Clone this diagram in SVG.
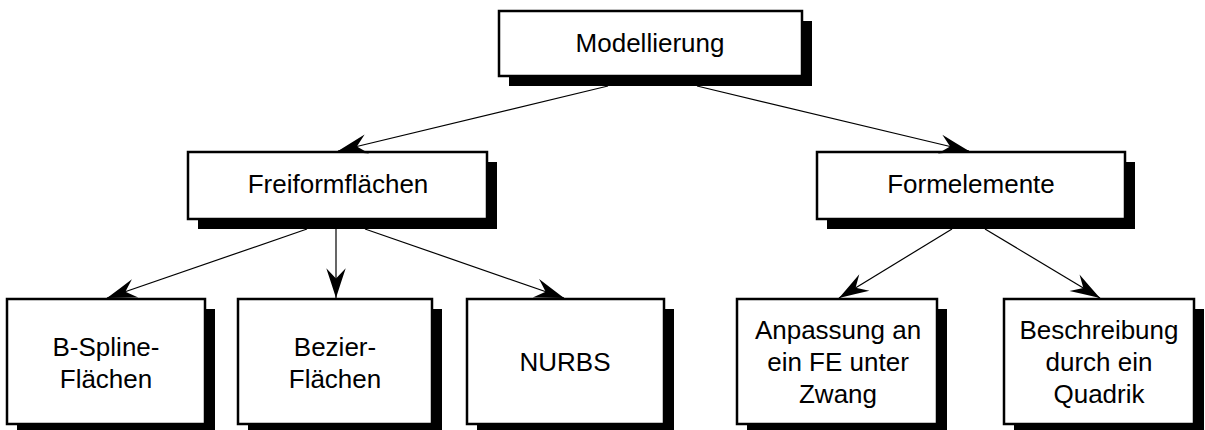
<svg xmlns="http://www.w3.org/2000/svg" width="1205" height="430" viewBox="0 0 1205 430">
  <style>
    .shadow { fill: #000; }
    .box { fill: #fff; stroke: #000; stroke-width: 2.5; }
    .label { font-family: "Liberation Sans", Arial, sans-serif; font-size: 26px; fill: #000; text-anchor: middle; }
    .edge { stroke: #000; stroke-width: 1.2; fill: none; marker-end: url(#arrow); }
  </style>
  <defs>
    <marker id="arrow" markerUnits="userSpaceOnUse" orient="auto" refX="0" refY="0" markerWidth="40" markerHeight="40" viewBox="-30 -15 35 30" overflow="visible">
      <path d="M0,0 Q-14,-4.5 -26,-8.5 L-17,0 L-26,8.5 Q-14,4.5 0,0 Z" fill="#000"/>
    </marker>
  </defs>

  <!-- root -->
  <g id="modellierung">
    <rect class="shadow" x="509" y="21" width="303" height="65"/>
    <rect class="box" x="499" y="11" width="303" height="65"/>
    <text class="label" x="650" y="52">Modellierung</text>
  </g>

  <!-- second level -->
  <g id="freiformflaechen">
    <rect class="shadow" x="198" y="162" width="299" height="67"/>
    <rect class="box" x="188" y="152" width="299" height="67"/>
    <text class="label" x="338" y="193">Freiformflächen</text>
  </g>
  <g id="formelemente">
    <rect class="shadow" x="827" y="162" width="308" height="67"/>
    <rect class="box" x="817" y="152" width="308" height="67"/>
    <text class="label" x="971" y="193">Formelemente</text>
  </g>

  <!-- leaves -->
  <g id="bspline">
    <rect class="shadow" x="17" y="309" width="198" height="125"/>
    <rect class="box" x="7" y="299" width="198" height="125"/>
    <text class="label" x="106" y="356">B-Spline-</text>
    <text class="label" x="106" y="388">Flächen</text>
  </g>
  <g id="bezier">
    <rect class="shadow" x="248" y="309" width="194" height="125"/>
    <rect class="box" x="238" y="299" width="194" height="125"/>
    <text class="label" x="335" y="356">Bezier-</text>
    <text class="label" x="335" y="388">Flächen</text>
  </g>
  <g id="nurbs">
    <rect class="shadow" x="477" y="309" width="197" height="125"/>
    <rect class="box" x="467" y="299" width="197" height="125"/>
    <text class="label" x="565" y="371">NURBS</text>
  </g>
  <g id="anpassung">
    <rect class="shadow" x="747" y="309" width="200" height="125"/>
    <rect class="box" x="737" y="299" width="200" height="125"/>
    <text class="label" x="838" y="339">Anpassung an</text>
    <text class="label" x="838" y="371">ein FE unter</text>
    <text class="label" x="838" y="403">Zwang</text>
  </g>
  <g id="beschreibung">
    <rect class="shadow" x="1014" y="309" width="190" height="125"/>
    <rect class="box" x="1004" y="299" width="190" height="125"/>
    <text class="label" x="1099" y="339">Beschreibung</text>
    <text class="label" x="1099" y="371">durch ein</text>
    <text class="label" x="1099" y="403">Quadrik</text>
  </g>

  <!-- connectors -->
  <g id="connectors">
    <line class="edge" x1="608" y1="86" x2="338" y2="151"/>
    <line class="edge" x1="697" y1="86" x2="969" y2="151"/>
    <line class="edge" x1="307" y1="229" x2="107" y2="298"/>
    <line class="edge" x1="336" y1="229" x2="336" y2="298"/>
    <line class="edge" x1="365" y1="229" x2="564" y2="298"/>
    <line class="edge" x1="952" y1="229" x2="839" y2="298"/>
    <line class="edge" x1="985" y1="229" x2="1100" y2="298"/>
  </g>
</svg>
